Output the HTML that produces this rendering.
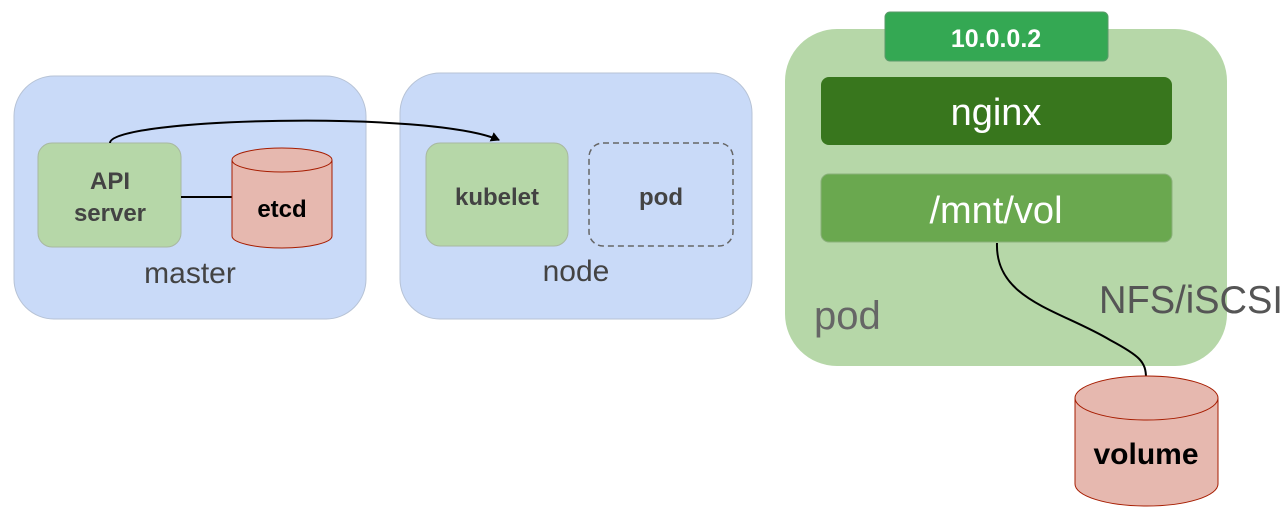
<!DOCTYPE html>
<html><head><meta charset="utf-8"><style>
html,body{margin:0;padding:0;background:#fff;width:1286px;height:507px;overflow:hidden}
</style></head><body>
<svg width="1286" height="507" viewBox="0 0 1286 507" xmlns="http://www.w3.org/2000/svg" font-family="Liberation Sans, sans-serif">
<defs><marker id="ah" markerWidth="10" markerHeight="10" refX="8" refY="5" orient="auto" markerUnits="userSpaceOnUse"><path d="M0,0 L9,5 L0,10 z" fill="#000"/></marker></defs>
<rect x="14" y="76" width="352" height="243" rx="40" fill="#c9daf8" stroke="#b7c3d6"/>
<rect x="400" y="73" width="352" height="246" rx="40" fill="#c9daf8" stroke="#b7c3d6"/>
<rect x="38" y="143" width="143" height="104" rx="14" fill="#b6d7a8" stroke="#a8b8a0"/>
<text x="110" y="189" text-anchor="middle" font-size="24" font-weight="bold" fill="#434343">API</text>
<text x="110" y="221" text-anchor="middle" font-size="24" font-weight="bold" fill="#434343">server</text>
<line x1="181" y1="197" x2="232" y2="197" stroke="#000" stroke-width="2"/>
<path d="M232,160 L232,236 A50,12 0 0 0 332,236 L332,160" fill="#e6b8af" stroke="#a61c00"/>
<ellipse cx="282" cy="160" rx="50" ry="12" fill="#e6b8af" stroke="#a61c00"/>
<text x="282" y="217" text-anchor="middle" font-size="24" font-weight="bold" fill="#000">etcd</text>
<text x="190" y="283" text-anchor="middle" font-size="30" fill="#434343">master</text>
<rect x="426" y="143" width="142" height="103" rx="14" fill="#b6d7a8" stroke="#a8b8a0"/>
<text x="497" y="205" text-anchor="middle" font-size="24" font-weight="bold" fill="#434343">kubelet</text>
<rect x="589" y="143" width="144" height="103" rx="14" fill="none" stroke="#666" stroke-width="1.5" stroke-dasharray="6,4"/>
<text x="661" y="205" text-anchor="middle" font-size="24" font-weight="bold" fill="#434343">pod</text>
<text x="576" y="281" text-anchor="middle" font-size="30" fill="#434343">node</text>
<path d="M110,143 C110,118 430,110 499,140" fill="none" stroke="#000" stroke-width="2" marker-end="url(#ah)"/>
<rect x="785" y="29" width="442" height="337" rx="52" fill="#b6d7a8"/>
<rect x="885" y="12" width="223" height="49" rx="5" fill="#34a853" stroke="#5a9a6a"/>
<text x="996" y="47" text-anchor="middle" font-size="25" font-weight="bold" fill="#fff">10.0.0.2</text>
<rect x="821" y="77" width="351" height="68" rx="8" fill="#38761d"/>
<text x="996" y="125" text-anchor="middle" font-size="38" fill="#fff">nginx</text>
<rect x="821" y="174" width="351" height="68" rx="8" fill="#6aa84f" stroke="#8ab07a"/>
<text x="996" y="223" text-anchor="middle" font-size="38" fill="#fff">/mnt/vol</text>
<text x="814" y="329" font-size="40" fill="#666">pod</text>
<text x="1099" y="313" font-size="39" fill="#555" textLength="184" lengthAdjust="spacingAndGlyphs">NFS/iSCSI</text>
<path d="M997,243 C995,300 1060,310 1110,340 C1140,356 1146,362 1146,378" fill="none" stroke="#000" stroke-width="2"/>
<path d="M1075,398 L1075,484 A71.5,22 0 0 0 1218,484 L1218,398" fill="#e6b8af" stroke="#a61c00"/>
<ellipse cx="1146.5" cy="398" rx="71.5" ry="22" fill="#e6b8af" stroke="#a61c00"/>
<text x="1146" y="464" text-anchor="middle" font-size="30" font-weight="bold" fill="#000">volume</text>
</svg>
</body></html>
